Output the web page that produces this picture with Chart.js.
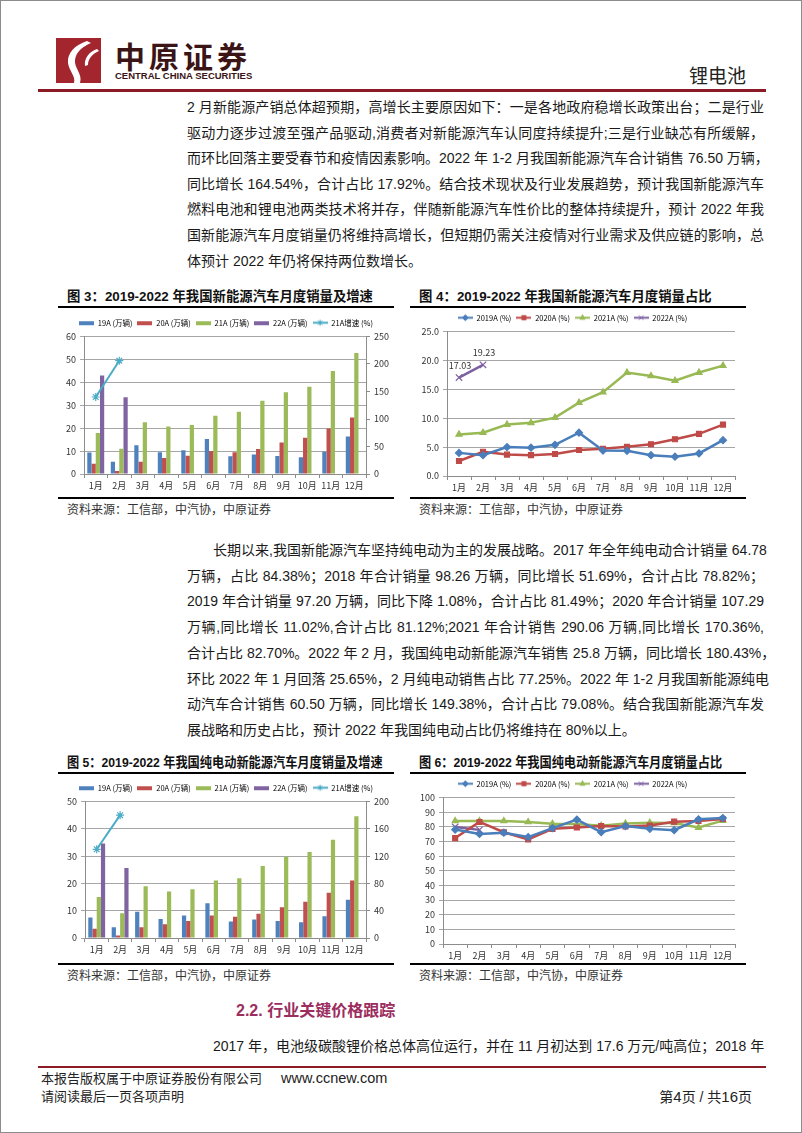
<!DOCTYPE html>
<html>
<head>
<meta charset="utf-8">
<script src="https://cdn.jsdelivr.net/npm/chart.js@4.4.1/dist/chart.umd.min.js"></script>
<style>
html,body{margin:0;padding:0;background:#fff;}
#page{position:relative;width:802px;height:1133px;overflow:hidden;box-sizing:border-box;border:1px solid #8c8c8c;
  font-family:"Liberation Sans","Noto Sans CJK SC",sans-serif;color:#1a1a1a;background:#fff;}
.abs{position:absolute;white-space:nowrap;}
.ln{position:absolute;width:577px;font-size:14px;line-height:20px;height:20px;text-align:justify;text-align-last:justify;white-space:nowrap;color:#1a1a1a;}
.ln.last{text-align:left;text-align-last:left;}
.rule{position:absolute;background:#000;height:2px;}
.ftitle{position:absolute;font-size:13.5px;font-weight:700;line-height:18px;white-space:nowrap;color:#111;transform-origin:0 50%;}
.src{position:absolute;font-size:12px;line-height:16px;white-space:nowrap;color:#333;}
.box{position:absolute;}
</style>
</head>
<body>
<div id="page">
  <!-- 页眉 -->
  <svg class="abs" style="left:55px;top:37px" width="45" height="45" viewBox="0 0 45 45">
    <rect width="45" height="45" fill="#A3262F"/>
    <path d="M31 3 C19 7 11 15 12 25 C13 33 20 38 18 45 L24 45 C27 36 18 30 19 22 C20 14 26 9 35 5 Z" fill="#fff"/>
    <path d="M41 11 C33 14 28 20 29 28 L32 27 C32 21 36 16 43 13 Z" fill="#fff"/>
  </svg>
  <div class="abs" style="left:114px;top:38px;font-size:30px;line-height:32px;font-weight:700;letter-spacing:4px;color:#3b1416;font-family:'Noto Sans CJK SC'">中原证券</div>
  <div class="abs" style="left:114px;top:69px;font-size:9.5px;line-height:12px;font-weight:700;color:#3b1416;font-family:'Liberation Sans Narrow','Liberation Sans'">CENTRAL CHINA SECURITIES</div>
  <div class="abs" style="left:688px;top:63px;font-size:19px;line-height:22px;color:#222;font-family:'Noto Sans CJK SC'">锂电池</div>
  <div class="abs" style="left:37px;top:88px;width:728px;height:3px;background:#8B1C26"></div>

  <div id="para1"></div>

  <!-- 图3 / 图4 -->
  <div class="ftitle" data-w="306" style="left:66px;top:287px">图 3：2019-2022 年我国新能源汽车月度销量及增速</div>
  <div class="ftitle" data-w="293" style="left:418px;top:287px">图 4：2019-2022 年我国新能源汽车月度销量占比</div>
  <div class="rule" style="left:57px;top:305px;width:336px"></div>
  <div class="rule" style="left:409px;top:305px;width:336px"></div>
  <div class="box" style="left:57px;top:310px;width:336px;height:185px"><canvas id="c3"></canvas></div>
  <div class="box" style="left:409px;top:308px;width:336px;height:187px"><canvas id="c4"></canvas></div>
  <div class="rule" style="left:57px;top:496px;width:336px"></div>
  <div class="rule" style="left:409px;top:496px;width:336px"></div>
  <div class="src" style="left:66px;top:501px">资料来源：工信部，中汽协，中原证券</div>
  <div class="src" style="left:418px;top:501px">资料来源：工信部，中汽协，中原证券</div>

  <div id="para2"></div>

  <!-- 图5 / 图6 -->
  <div class="ftitle" data-w="316" style="left:66px;top:753px">图 5：2019-2022 年我国纯电动新能源汽车月度销量及增速</div>
  <div class="ftitle" data-w="303" style="left:418px;top:753px">图 6：2019-2022 年我国纯电动新能源汽车月度销量占比</div>
  <div class="rule" style="left:57px;top:771px;width:336px"></div>
  <div class="rule" style="left:409px;top:771px;width:336px"></div>
  <div class="box" style="left:57px;top:774px;width:336px;height:187px"><canvas id="c5"></canvas></div>
  <div class="box" style="left:409px;top:772px;width:336px;height:189px"><canvas id="c6"></canvas></div>
  <div class="rule" style="left:57px;top:962px;width:336px"></div>
  <div class="rule" style="left:409px;top:962px;width:336px"></div>
  <div class="src" style="left:66px;top:967px">资料来源：工信部，中汽协，中原证券</div>
  <div class="src" style="left:418px;top:967px">资料来源：工信部，中汽协，中原证券</div>

  <div class="abs" style="left:235px;top:1000px;font-size:16px;line-height:20px;font-weight:700;color:#9B2D5F">2.2. 行业关键价格跟踪</div>
  <div class="ln" style="left:212px;width:551px;top:1035px">2017 年，电池级碳酸锂价格总体高位运行，并在 11 月初达到 17.6 万元/吨高位；2018 年</div>

  <!-- 页脚 -->
  <div class="abs" style="left:37px;top:1065px;width:728px;height:2px;background:#8B1C26"></div>
  <div class="abs" style="left:40px;top:1070px;font-size:13px;line-height:16px;color:#222">本报告版权属于中原证券股份有限公司</div>
  <div class="abs" style="left:280px;top:1069px;font-size:14.5px;line-height:17px;color:#222;font-family:'Liberation Sans'">www.ccnew.com</div>
  <div class="abs" style="left:40px;top:1088px;font-size:13px;line-height:16px;color:#222">请阅读最后一页各项声明</div>
  <div class="abs" style="left:645px;top:1087px;width:106px;font-size:14px;line-height:17px;color:#222;text-align:right">第<span style="font-size:15px">4</span>页 / 共<span style="font-size:15px">16</span>页</div>
</div>

<script>
/* --- 正文 --- */
const PARA1 = [
  '2 月新能源产销总体超预期，高增长主要原因如下：一是各地政府稳增长政策出台；二是行业',
  '驱动力逐步过渡至强产品驱动,消费者对新能源汽车认同度持续提升;三是行业缺芯有所缓解，',
  '而环比回落主要受春节和疫情因素影响。2022 年 1-2 月我国新能源汽车合计销售 76.50 万辆，',
  '同比增长 164.54%，合计占比 17.92%。结合技术现状及行业发展趋势，预计我国新能源汽车',
  '燃料电池和锂电池两类技术将并存，伴随新能源汽车性价比的整体持续提升，预计 2022 年我',
  '国新能源汽车月度销量仍将维持高增长，但短期仍需关注疫情对行业需求及供应链的影响，总',
  '体预计 2022 年仍将保持两位数增长。'
];
const PARA2 = [
  '长期以来,我国新能源汽车坚持纯电动为主的发展战略。2017 年全年纯电动合计销量 64.78',
  '万辆，占比 84.38%；2018 年合计销量 98.26 万辆，同比增长 51.69%，合计占比 78.82%；',
  '2019 年合计销量 97.20 万辆，同比下降 1.08%，合计占比 81.49%；2020 年合计销量 107.29',
  '万辆,同比增长 11.02%,合计占比 81.12%;2021 年合计销售 290.06 万辆,同比增长 170.36%,',
  '合计占比 82.70%。2022 年 2 月，我国纯电动新能源汽车销售 25.8 万辆，同比增长 180.43%，',
  '环比 2022 年 1 月回落 25.65%，2 月纯电动销售占比 77.25%。2022 年 1-2 月我国新能源纯电',
  '动汽车合计销售 60.50 万辆，同比增长 149.38%，合计占比 79.08%。结合我国新能源汽车发',
  '展战略和历史占比，预计 2022 年我国纯电动占比仍将维持在 80%以上。'
];

function addLines(hostId, lines, firstY, step, indentFirst) {
  const host = document.getElementById(hostId);
  lines.forEach((t, i) => {
    const d = document.createElement('div');
    d.className = 'ln' + (i === lines.length - 1 ? ' last' : '');
    const left = (i === 0 && indentFirst) ? 212 : 186;
    d.style.left = left + 'px';
    d.style.width = (763 - left) + 'px';
    d.style.top = (firstY + i * step - 10) + 'px';
    d.textContent = t;
    host.appendChild(d);
  });
}
addLines('para1', PARA1, 106, 25.6, false);
addLines('para2', PARA2, 549, 25.7, true);

// 图标题按原图宽度收放
document.querySelectorAll('.ftitle').forEach(el => {
  const w = +el.dataset.w;
  const k = w / el.scrollWidth;
  el.style.transform = 'scaleX(' + k.toFixed(3) + ')';
});

/* --- 数据 --- */
const MONTHS = ['1月','2月','3月','4月','5月','6月','7月','8月','9月','10月','11月','12月'];

// 图3：新能源汽车月度销量（万辆）及增速（%）
const nev19 = [9.4, 5.4, 12.5, 9.5, 10.4, 15.3, 7.7, 8.5, 7.9, 7.3, 9.7, 16.4];
const nev20 = [4.5, 1.3, 5.4, 7.0, 8.0, 10.0, 9.5, 10.9, 13.8, 15.8, 19.9, 24.7];
const nev21 = [17.9, 11.0, 22.6, 20.7, 21.4, 25.4, 27.2, 32.0, 35.7, 38.1, 44.9, 52.8];
const nev22 = [43.0, 33.5, null, null, null, null, null, null, null, null, null, null];
const nevGrowth = [140, 206, null, null, null, null, null, null, null, null, null, null];

// 图4：新能源汽车月度销量占比（%）
const share19 = [4.0, 3.6, 5.0, 4.9, 5.4, 7.5, 4.4, 4.35, 3.6, 3.35, 3.9, 6.2];
const share20 = [2.6, 4.2, 3.7, 3.6, 3.8, 4.5, 4.7, 5.05, 5.5, 6.35, 7.3, 8.9];
const share21 = [7.2, 7.5, 8.9, 9.2, 10.1, 12.7, 14.5, 17.9, 17.3, 16.5, 17.9, 19.1];
const share22 = [17.03, 19.23, null, null, null, null, null, null, null, null, null, null];

// 图5：纯电动新能源汽车月度销量（万辆）及增速（%）
const bev19 = [7.5, 3.9, 9.6, 7.0, 8.25, 12.75, 6.0, 6.75, 6.25, 5.75, 8.0, 14.0];
const bev20 = [3.4, 0.9, 3.9, 5.0, 6.25, 8.25, 7.75, 8.9, 11.25, 13.25, 16.6, 21.1];
const bev21 = [15.0, 9.1, 19.0, 17.0, 17.9, 21.1, 21.9, 26.4, 29.75, 31.5, 36.0, 44.6];
const bev22 = [34.6, 25.6, null, null, null, null, null, null, null, null, null, null];
const bevGrowth = [130, 180, null, null, null, null, null, null, null, null, null, null];

// 图6：纯电动月度销量占比（%）
const bevShare19 = [78.1, 75.1, 76.0, 73.0, 79.1, 84.9, 76.3, 80.5, 78.6, 77.7, 85.1, 86.0];
const bevShare20 = [72.3, 83.3, 76.3, 71.4, 78.6, 79.5, 80.5, 80.2, 80.9, 83.5, 84.0, 85.3];
const bevShare21 = [84.0, 84.0, 84.0, 83.3, 82.1, 81.9, 80.7, 82.3, 82.8, 82.6, 79.5, 84.2];
const bevShare22 = [79.9, 77.9, null, null, null, null, null, null, null, null, null, null];

const BAR_LABELS = ['19A (万辆)', '20A (万辆)', '21A (万辆)', '22A (万辆)', '21A增速 (%)'];
const LINE_LABELS = ['2019A (%)', '2020A (%)', '2021A (%)', '2022A (%)'];

/* --- 样式 --- */
const BLUE = '#4F81BD', RED = '#C0504D', GREEN = '#9BBB59', PURPLE = '#8064A2', CYAN = '#4BACC6';
const LBLUE = '#4A7EBB', LRED = '#BE4B48', LGREEN = '#98B954', LPURPLE = '#7D60A0';
const GRID = '#a6a6a6', AXIS = '#8c8c8c', TXT = '#333';
const FONT = '"Noto Sans CJK SC", "Liberation Sans", sans-serif';
Chart.defaults.font.family = FONT;
Chart.defaults.color = TXT;
Chart.defaults.animation = false;

const ICON_W = 15;

/* 图例小图标：柱子=色块，折线=线+标记 */
function legendIcon(color, marker) {
  const c = document.createElement('canvas');
  c.width = ICON_W; c.height = 9;
  const g = c.getContext('2d');
  if (!marker) { g.fillStyle = color; g.fillRect(0, 3, ICON_W, 4); return c; }
  g.strokeStyle = color; g.fillStyle = color; g.lineWidth = 2;
  g.beginPath(); g.moveTo(0, 4.5); g.lineTo(ICON_W, 4.5); g.stroke();
  g.lineWidth = 1;
  if (Chart.helpers && Chart.helpers.drawPoint) {
    Chart.helpers.drawPoint(g, { pointStyle: marker, radius: 3, rotation: 0, borderWidth: 1 }, ICON_W / 2, 4.5);
  }
  return c;
}

function legendOpts(icons, pad, size) {
  return {
    display: true,
    position: 'top',
    labels: {
      usePointStyle: true,
      pointStyleWidth: ICON_W,
      padding: pad,
      font: { size: size, family: FONT },
      color: TXT,
      generateLabels: chart => chart.data.datasets.map((ds, i) => ({
        text: ds.label, pointStyle: icons[i], fillStyle: 'transparent', strokeStyle: 'transparent',
        lineWidth: 0, hidden: false, datasetIndex: i
      }))
    }
  };
}

function xAxis(h) {
  return {
    type: 'category', offset: true,
    grid: { display: true, offset: true, drawOnChartArea: false, drawTicks: true, tickLength: 4, color: AXIS },
    border: { color: AXIS },
    ticks: { font: { size: 9 }, color: TXT, padding: 2, maxRotation: 0, autoSkip: false },
    afterFit: s => { s.height = h; }
  };
}

function yAxis(pos, max, step, w, showGrid, digits) {
  return {
    position: pos, min: 0, max: max,
    ticks: { stepSize: step, font: { size: 9 }, color: TXT, padding: 4,
             callback: v => digits ? Number(v).toFixed(digits) : v },
    grid: { drawOnChartArea: showGrid, color: showGrid ? GRID : AXIS, tickLength: 4 },
    border: { color: AXIS },
    afterFit: s => { s.width = w; }
  };
}

function barDataset(label, data, color) {
  return { type: 'bar', label, data, backgroundColor: color, borderWidth: 0,
           barPercentage: 1, categoryPercentage: 0.72, yAxisID: 'y', order: 1 };
}
function growthDataset(label, data) {
  return { type: 'line', label, data, yAxisID: 'y1', borderColor: CYAN, backgroundColor: CYAN,
           borderWidth: 2, pointStyle: 'star', pointRadius: 4, pointBorderWidth: 1.2,
           pointBorderColor: CYAN, tension: 0, order: 0 };
}
function lineDataset(label, data, color, marker, r) {
  return { label, data, borderColor: color, backgroundColor: color, borderWidth: 2.5,
           pointStyle: marker, pointRadius: r, pointBorderWidth: 1.2, pointBorderColor: color,
           pointBackgroundColor: color, tension: 0 };
}

const barIcons = [legendIcon(BLUE), legendIcon(RED), legendIcon(GREEN), legendIcon(PURPLE), legendIcon(CYAN, 'star')];
const lineIcons = [legendIcon(LBLUE, 'rectRot'), legendIcon(LRED, 'rect'), legendIcon(LGREEN, 'triangle'), legendIcon(LPURPLE, 'crossRot')];

/* 折线数据标签（图4 的 2022A） */
const pointLabels = {
  id: 'pointLabels',
  afterDatasetsDraw(chart, args, opts) {
    const idx = opts.dataset;
    if (idx === undefined) return;
    const meta = chart.getDatasetMeta(idx);
    const ctx = chart.ctx;
    ctx.save();
    ctx.font = '9px ' + FONT;
    ctx.fillStyle = TXT;
    ctx.textAlign = 'center';
    ctx.textBaseline = 'middle';
    meta.data.forEach((pt, i) => {
      const v = chart.data.datasets[idx].data[i];
      if (v == null) return;
      ctx.fillText(v.toFixed(2), pt.x + 1, pt.y - 12);
    });
    ctx.restore();
  }
};

function barChart(id, d19, d20, d21, d22, growth, yMax, yStep, y1Max, y1Step, box) {
  return new Chart(document.getElementById(id), {
    type: 'bar',
    data: {
      labels: MONTHS,
      datasets: [
        barDataset(BAR_LABELS[0], d19, BLUE),
        barDataset(BAR_LABELS[1], d20, RED),
        barDataset(BAR_LABELS[2], d21, GREEN),
        barDataset(BAR_LABELS[3], d22, PURPLE),
        growthDataset(BAR_LABELS[4], growth)
      ]
    },
    options: {
      responsive: true, maintainAspectRatio: false,
      layout: { padding: { top: box.top, left: 0, right: 0, bottom: 0 } },
      plugins: { legend: legendOpts(barIcons, 5, 7.5), tooltip: { enabled: false } },
      scales: {
        x: xAxis(box.xh),
        y: yAxis('left', yMax, yStep, box.yw, true, 0),
        y1: yAxis('right', y1Max, y1Step, box.y1w, false, 0)
      }
    }
  });
}

function lineChart(id, s19, s20, s21, s22, yMax, yStep, digits, box, labelIdx) {
  return new Chart(document.getElementById(id), {
    type: 'line',
    data: {
      labels: MONTHS,
      datasets: [
        lineDataset(LINE_LABELS[0], s19, LBLUE, 'rectRot', 3.5),
        lineDataset(LINE_LABELS[1], s20, LRED, 'rect', 3.5),
        lineDataset(LINE_LABELS[2], s21, LGREEN, 'triangle', 3.5),
        lineDataset(LINE_LABELS[3], s22, LPURPLE, 'crossRot', 4.5)
      ]
    },
    options: {
      responsive: true, maintainAspectRatio: false,
      layout: { padding: { top: box.top, left: 0, right: box.right, bottom: 0 } },
      plugins: {
        legend: legendOpts(lineIcons, 5, 7.5),
        tooltip: { enabled: false },
        pointLabels: { dataset: labelIdx }
      },
      scales: {
        x: xAxis(box.xh),
        y: yAxis('left', yMax, yStep, box.yw, true, digits)
      }
    },
    plugins: [pointLabels]
  });
}

barChart('c3', nev19, nev20, nev21, nev22, nevGrowth, 60, 10, 250, 50, { top: 3, xh: 22, yw: 26, y1w: 28 });
lineChart('c4', share19, share20, share21, share22, 25, 5, 1, { top: 0, right: 11, xh: 20, yw: 37 }, 3);
barChart('c5', bev19, bev20, bev21, bev22, bevGrowth, 50, 5, 200, 20, { top: 4, xh: 24, yw: 27, y1w: 28 });
lineChart('c6', bevShare19, bevShare20, bevShare21, bevShare22, 100, 10, 0, { top: 2, right: 11, xh: 18, yw: 33 }, undefined);
</script>
</body>
</html>
